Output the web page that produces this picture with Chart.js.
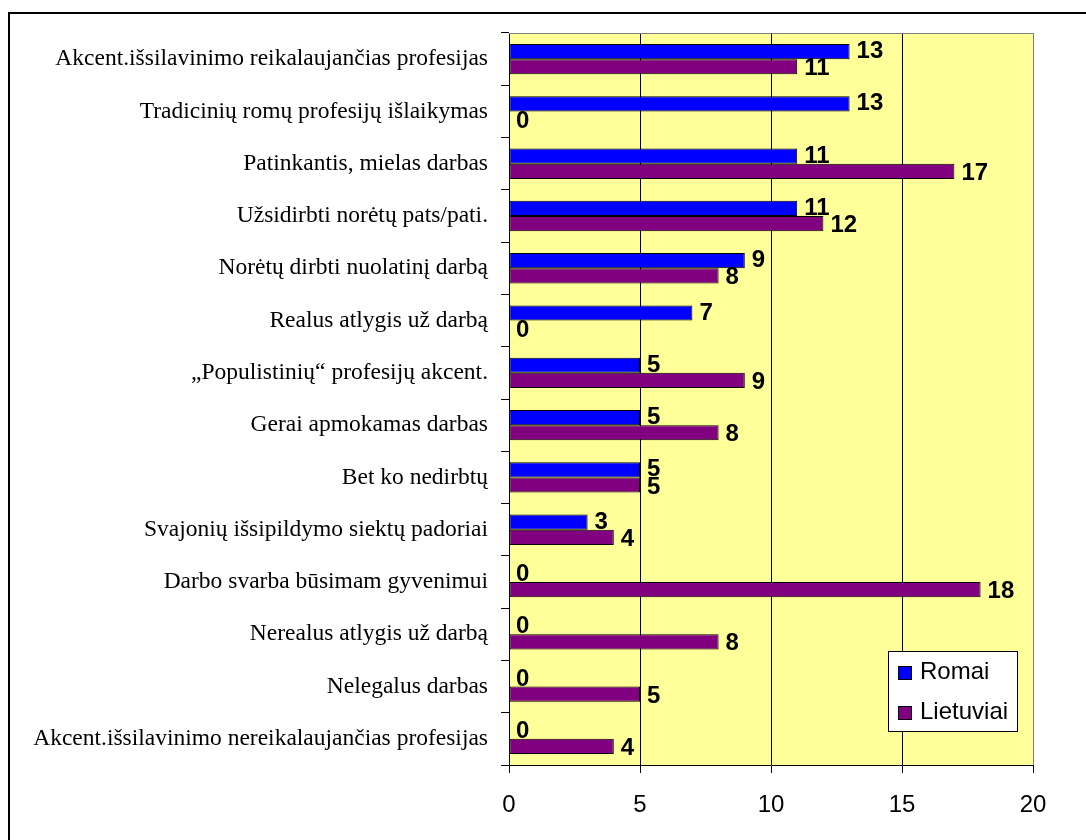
<!DOCTYPE html>
<html>
<head>
<meta charset="utf-8">
<script src="https://cdn.jsdelivr.net/npm/chart.js@4"></script>
<style>
  html, body { margin: 0; padding: 0; background: #ffffff; }
  #wrap { width: 1086px; height: 840px; position: relative; }
</style>
</head>
<body>
<div id="wrap"><canvas id="chart" width="1086" height="840"></canvas></div>
<script>
// Categories, top to bottom
const categories = [
    'Akcent.išsilavinimo reikalaujančias profesijas',
    'Tradicinių romų profesijų išlaikymas',
    'Patinkantis, mielas darbas',
    'Užsidirbti norėtų pats/pati.',
    'Norėtų dirbti nuolatinį darbą',
    'Realus atlygis už darbą',
    '„Populistinių“ profesijų akcent.',
    'Gerai apmokamas darbas',
    'Bet ko nedirbtų',
    'Svajonių išsipildymo siektų padoriai',
    'Darbo svarba būsimam gyvenimui',
    'Nerealus atlygis už darbą',
    'Nelegalus darbas',
    'Akcent.išsilavinimo nereikalaujančias profesijas'
];
const romai = [13, 13, 11, 11, 9, 7, 5, 5, 5, 3, 0, 0, 0, 0];
const lietuviai = [11, 0, 17, 12, 8, 0, 9, 8, 5, 4, 18, 8, 5, 4];
const xTicks = [0, 5, 10, 15, 20];

// Yellow plot area, plot frame and outer frame
const backgroundPlugin = {
    id: 'background',
    beforeDraw(chart) {
        const ctx = chart.ctx;
        const a = chart.chartArea;
        ctx.save();
        ctx.fillStyle = '#FFFF99';
        ctx.fillRect(a.left, a.top, a.right - a.left, a.bottom - a.top);
        ctx.strokeStyle = '#000000';
        ctx.lineWidth = 2;
        ctx.strokeRect(9, 13, 1200, 1200);
        ctx.restore();
    },
    afterDatasetsDraw(chart) {
        const ctx = chart.ctx;
        const a = chart.chartArea;
        ctx.save();
        ctx.strokeStyle = '#808080';
        ctx.lineWidth = 1;
        ctx.beginPath();
        ctx.moveTo(a.left, a.top + 0.5);
        ctx.lineTo(a.right + 0.5, a.top + 0.5);
        ctx.lineTo(a.right + 0.5, a.bottom);
        ctx.stroke();
        ctx.restore();
    }
};

// Value labels at the end of each bar
const valueLabels = {
    id: 'valueLabels',
    afterDatasetsDraw(chart) {
        const ctx = chart.ctx;
        ctx.save();
        ctx.font = 'bold 24px "Liberation Sans", Arial, sans-serif';
        ctx.fillStyle = '#000000';
        ctx.textAlign = 'left';
        ctx.textBaseline = 'middle';
        chart.data.datasets.forEach((ds, i) => {
            const meta = chart.getDatasetMeta(i);
            meta.data.forEach((bar, j) => {
                const dy = i === 0 ? 0 : 2;
                ctx.fillText(String(ds.data[j]), bar.x + 7, bar.y + dy);
            });
        });
        ctx.restore();
    }
};

// Legend box inside the plot
const boxLegend = {
    id: 'boxLegend',
    afterDraw(chart) {
        const ctx = chart.ctx;
        const x = 888, y = 651, w = 129, h = 80;
        ctx.save();
        ctx.fillStyle = '#ffffff';
        ctx.fillRect(x, y, w, h);
        ctx.strokeStyle = '#000000';
        ctx.lineWidth = 1;
        ctx.strokeRect(x + 0.5, y + 0.5, w, h);
        ctx.font = '24px "Liberation Sans", Arial, sans-serif';
        ctx.textBaseline = 'middle';
        chart.data.datasets.forEach((ds, i) => {
            const cy = y + 21 + i * 40;
            ctx.fillStyle = ds.backgroundColor;
            ctx.fillRect(x + 10, cy - 6, 13, 13);
            ctx.strokeRect(x + 10.5, cy - 5.5, 13, 13);
            ctx.fillStyle = '#000000';
            ctx.fillText(ds.label, x + 32, cy);
        });
        ctx.restore();
    }
};

new Chart(document.getElementById('chart'), {
    type: 'bar',
    data: {
        labels: categories,
        datasets: [
            {
                label: 'Romai',
                data: romai,
                backgroundColor: '#0000FF',
                borderColor: '#000000',
                borderWidth: 1,
                borderSkipped: false
            },
            {
                label: 'Lietuviai',
                data: lietuviai,
                backgroundColor: '#800080',
                borderColor: '#000000',
                borderWidth: 1,
                borderSkipped: false
            }
        ]
    },
    options: {
        indexAxis: 'y',
        responsive: false,
        animation: false,
        categoryPercentage: 0.58,
        barPercentage: 1.0,
        layout: { padding: { top: 33, right: 53, left: 0, bottom: 0 } },
        scales: {
            x: {
                min: 0,
                max: 20,
                afterBuildTicks(scale) {
                    scale.ticks = xTicks.map(v => ({ value: v }));
                },
                afterFit(scale) { scale.height = 75; },
                border: { display: true, color: '#000000', width: 1 },
                grid: {
                    color: ctx => (ctx.tick && ctx.tick.value === 20) ? '#808080' : '#000000',
                    tickColor: '#000000',
                    tickLength: 8,
                    lineWidth: 1
                },
                ticks: {
                    color: '#000000',
                    padding: 18,
                    font: { family: '"Liberation Sans", Arial, sans-serif', size: 24 }
                }
            },
            y: {
                afterFit(scale) { scale.width = 509; },
                border: { display: true, color: '#000000', width: 1 },
                grid: {
                    drawOnChartArea: false,
                    offset: true,
                    tickColor: '#000000',
                    tickLength: 8
                },
                ticks: {
                    color: '#000000',
                    padding: 13,
                    autoSkip: false,
                    font: { family: '"Liberation Serif", "Times New Roman", serif', size: 23.5 }
                }
            }
        },
        plugins: {
            legend: { display: false },
            tooltip: { enabled: false }
        }
    },
    plugins: [backgroundPlugin, valueLabels, boxLegend]
});
</script>
</body>
</html>
